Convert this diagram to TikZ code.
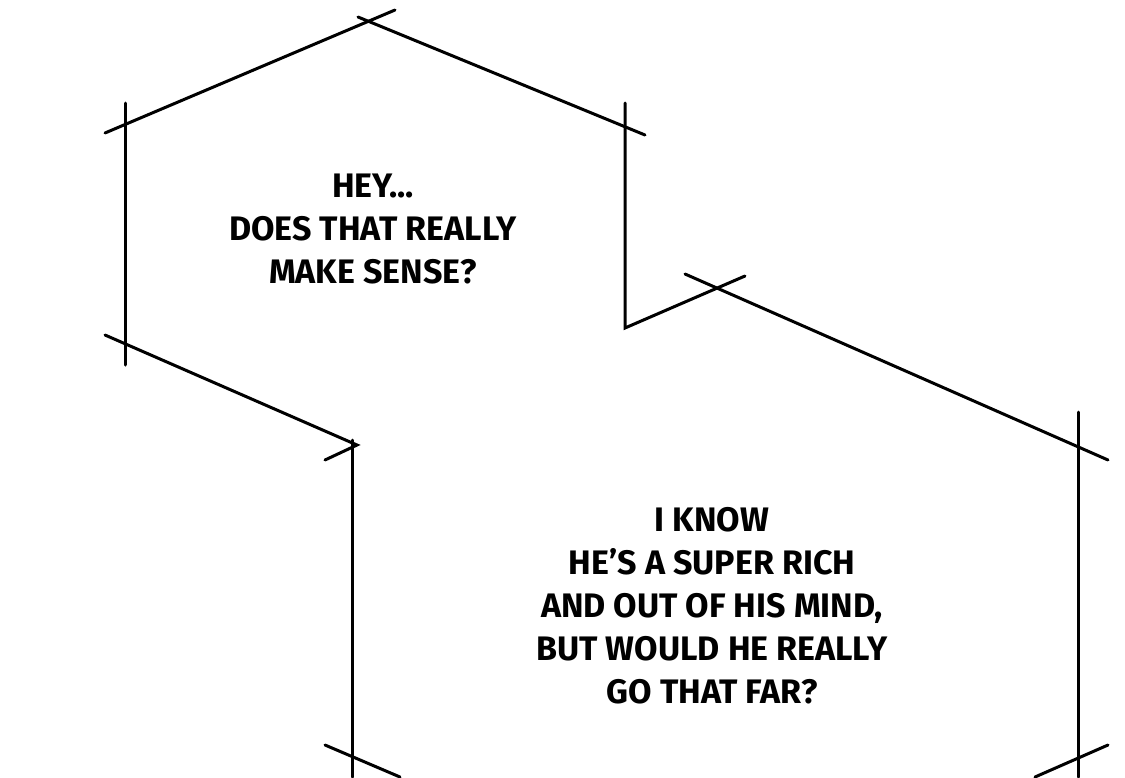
\documentclass[tikz,border=0pt]{standalone}
\usepackage{fontspec}
\setmainfont{Fira Sans}
\begin{document}
\begin{tikzpicture}[x=1pt,y=-1pt,
	edge/.style={line width=3pt,line cap=round},
	talk/.style={align=center,font=\bfseries\fontsize{34}{43}\selectfont}]
	\useasboundingbox (0,0) rectangle (1125,777);
	% upper bubble
	\draw[edge] (105,133) -- (395,10);
	\draw[edge] (358,17) -- (645,135);
	\draw[edge] (125,103) -- (125,365);
	\draw[edge] (625,103) -- (625,328) -- (745,276);
	% lower bubble
	\draw[edge] (685,274) -- (1108,460);
	\draw[edge] (1078,412) -- (1078,777);
	\draw[edge] (105,335) -- (357,445) -- (325,460);
	\draw[edge] (352,440) -- (352,777);
	\draw[edge] (325,745) -- (400,777);
	\draw[edge] (1035,777) -- (1108,745);
	\node[talk] (hey) at (373,229) {HEY...\\DOES THAT REALLY\\MAKE SENSE?};
	\node[talk] (know) at (712,606) {I KNOW\\HE'S A SUPER RICH\\AND OUT OF HIS MIND,\\BUT WOULD HE REALLY\\GO THAT FAR?};
\end{tikzpicture}
\end{document}
